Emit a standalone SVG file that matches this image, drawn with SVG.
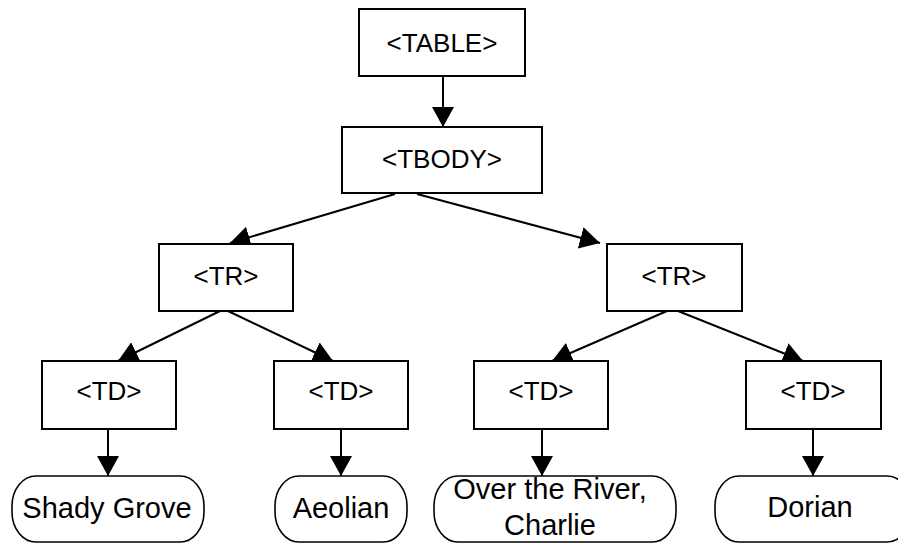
<svg xmlns="http://www.w3.org/2000/svg" width="898" height="543" viewBox="0 0 898 543">
<style>
.box{fill:#fff;stroke:#000;stroke-width:2}
.leaf{fill:#fff;stroke:#000;stroke-width:1.6}
.t{font-family:"Liberation Sans",Arial,sans-serif;font-size:26px;fill:#000;text-anchor:middle}
.lt{font-size:29px}
.c{stroke:#000;stroke-width:2;fill:none;marker-end:url(#ah)}
</style>
<defs>
<marker id="ah" markerUnits="userSpaceOnUse" markerWidth="22" markerHeight="22" refX="20" refY="11" orient="auto" viewBox="0 0 22 22">
<path d="M0,0 L20,11 L0,22 z" fill="#000"/>
</marker>
</defs>
<rect width="898" height="543" fill="#fff"/>
<g id="connectors">
<line class="c" x1="443" y1="76" x2="443" y2="127"/>
<line class="c" x1="395" y1="194" x2="230" y2="243"/>
<line class="c" x1="417" y1="194" x2="600" y2="243"/>
<line class="c" x1="220" y1="311" x2="118" y2="361"/>
<line class="c" x1="228" y1="311" x2="333" y2="361"/>
<line class="c" x1="667" y1="311" x2="552" y2="361"/>
<line class="c" x1="678" y1="311" x2="803" y2="361"/>
<line class="c" x1="108" y1="429" x2="108" y2="476"/>
<line class="c" x1="341" y1="429" x2="341" y2="476"/>
<line class="c" x1="542" y1="429" x2="542" y2="476"/>
<line class="c" x1="813" y1="429" x2="813" y2="476"/>
</g>
<g id="table"><rect class="box" x="359" y="9" width="166" height="67"/><text class="t" x="442" y="52">&lt;TABLE&gt;</text></g>
<g id="tbody"><rect class="box" x="342" y="127" width="200" height="66"/><text class="t" x="442" y="168">&lt;TBODY&gt;</text></g>
<g id="tr1"><rect class="box" x="159" y="244" width="134" height="67"/><text class="t" x="226" y="285">&lt;TR&gt;</text></g>
<g id="tr2"><rect class="box" x="607" y="244" width="135" height="67"/><text class="t" x="674" y="285">&lt;TR&gt;</text></g>
<g id="td1"><rect class="box" x="42" y="361" width="134" height="68"/><text class="t" x="109" y="400">&lt;TD&gt;</text></g>
<g id="td2"><rect class="box" x="274" y="361" width="134" height="68"/><text class="t" x="341" y="400">&lt;TD&gt;</text></g>
<g id="td3"><rect class="box" x="474" y="361" width="134" height="68"/><text class="t" x="541" y="400">&lt;TD&gt;</text></g>
<g id="td4"><rect class="box" x="746" y="361" width="135" height="68"/><text class="t" x="813" y="400">&lt;TD&gt;</text></g>
<g id="leaf1"><rect class="leaf" x="12" y="476" width="192" height="66" rx="24" ry="30"/><text class="t lt" x="107" y="518">Shady Grove</text></g>
<g id="leaf2"><rect class="leaf" x="275" y="476" width="132" height="66" rx="24" ry="30"/><text class="t lt" x="341" y="518">Aeolian</text></g>
<g id="leaf3"><rect class="leaf" x="434" y="476" width="242" height="66" rx="24" ry="30"/><text class="t lt" x="550" y="499">Over the River,</text><text class="t lt" x="550" y="535">Charlie</text></g>
<g id="leaf4"><rect class="leaf" x="715" y="476" width="196" height="66" rx="24" ry="30"/><text class="t lt" x="810" y="517">Dorian</text></g>
</svg>
